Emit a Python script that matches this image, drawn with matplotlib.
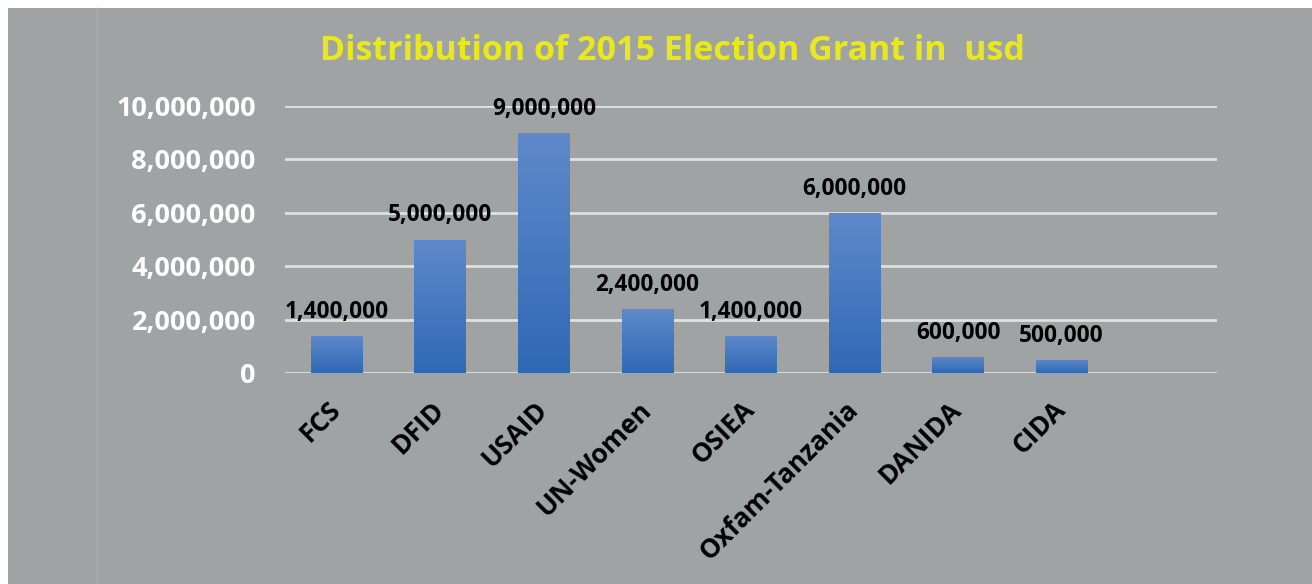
import matplotlib
matplotlib.use("Agg")
import matplotlib.pyplot as plt
import matplotlib.transforms as mtrans
import numpy as np
from matplotlib.patches import Rectangle
from matplotlib.ticker import FuncFormatter
from matplotlib.colors import LinearSegmentedColormap

categories = ["FCS", "DFID", "USAID", "UN-Women", "OSIEA", "Oxfam-Tanzania", "DANIDA", "CIDA"]
values = [1400000, 5000000, 9000000, 2400000, 1400000, 6000000, 600000, 500000]
title = "Distribution of 2015 Election Grant in  usd"
yticks = [0, 2000000, 4000000, 6000000, 8000000, 10000000]

W, H = 1312, 584
fig = plt.figure(figsize=(W/100, H/100), dpi=100)
fig.patch.set_facecolor("white")
GREY = "#a0a3a4"
fig.patches.append(Rectangle((8/W, 0), 1 - 8/W, 1 - 8/H, transform=fig.transFigure,
                             facecolor=GREY, edgecolor="none", zorder=-2))
fig.lines.append(plt.Line2D([97/W, 97/W], [0, 1 - 8/H], transform=fig.transFigure,
                            color="#aaadae", lw=1, zorder=-1))

FONT = "Open Sans"
ax = fig.add_axes([285/W, 1 - 373/H, (1217-285)/W, (373-106)/H])
ax.set_zorder(2)
ax.set_facecolor("none")
x = np.arange(len(categories))
bars = ax.bar(x, values, width=0.5, color="#4576c0", zorder=3)

grad = np.linspace(0, 1, 256).reshape(-1, 1)
cmap = LinearSegmentedColormap.from_list("g", ["#2f69b5", "#5f89cb"])
for b in bars:
    x0, y0 = b.get_x(), b.get_y()
    w, h = b.get_width(), b.get_height()
    im = ax.imshow(grad, extent=[x0, x0 + w, y0, y0 + h], origin="lower", cmap=cmap,
                   aspect="auto", zorder=4)
    im.set_clip_path(b)

for xi, v in zip(x, values):
    ax.text(xi, v + 450000, f"{v:,}", ha="center", va="bottom", fontsize=16.3,
            fontweight="bold", family=FONT, color="black", zorder=5)

ax.set_xlim(-0.5, len(categories) + 0.5)
ax.set_ylim(0, 10000000)
ax.set_yticks(yticks)
ax.yaxis.set_major_formatter(FuncFormatter(lambda v, p: f"{int(v):,}"))
ax.grid(axis="y", color="#dde1e4", lw=2, zorder=1)
ax.set_axisbelow(True)
for s in ax.spines.values():
    s.set_visible(False)
ax.tick_params(axis="both", length=0)
ax.tick_params(axis="y", pad=21, labelcolor="white", labelsize=19.5)
for lab in ax.get_yticklabels():
    lab.set_fontweight("bold")
    lab.set_family(FONT)
ax.set_xticks(x)
ax.set_xticklabels(categories, rotation=45, ha="right", rotation_mode="anchor",
                   fontsize=19, fontweight="bold", family=FONT, color="black")
ax.tick_params(axis="x", pad=20)
off = mtrans.ScaledTranslation(-10/100, 5/100, fig.dpi_scale_trans)
for lab in ax.get_xticklabels():
    lab.set_transform(lab.get_transform() + off)

fig.text(672/W, 1 - 51/H, title, ha="center", va="center", fontsize=24.5,
         fontweight="bold", family=FONT, color="#e8e81c")

fig.savefig("out.png", dpi=100, facecolor=fig.get_facecolor())
